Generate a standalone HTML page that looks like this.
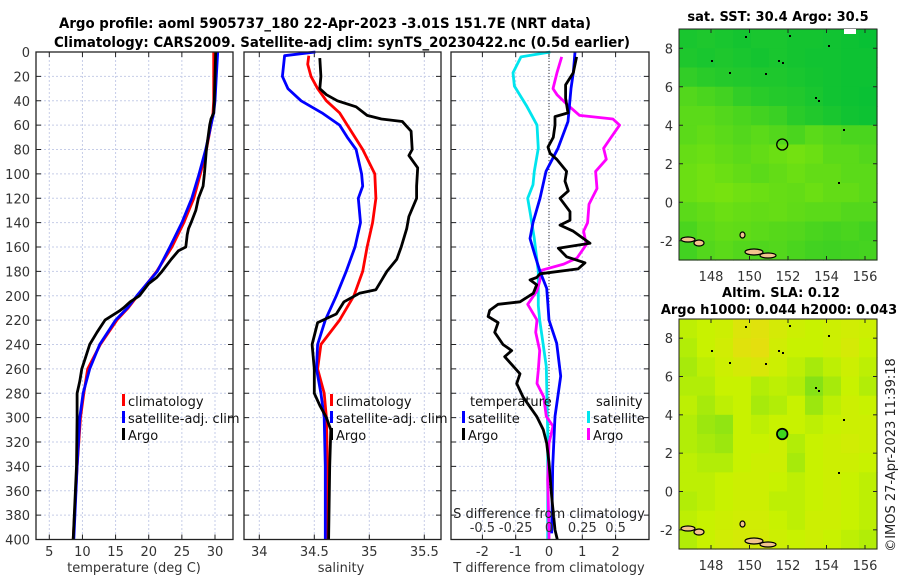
<!DOCTYPE html>
<html><head><meta charset="utf-8">
<style>
html,body{margin:0;padding:0;background:#fff;}
svg{display:block;font-family:"DejaVu Sans","Liberation Sans",sans-serif;}
</style></head>
<body>
<svg id="fig" width="900" height="580" viewBox="0 0 900 580" xmlns="http://www.w3.org/2000/svg">
<text x="325" y="28" text-anchor="middle" font-size="14" font-weight="bold" textLength="532" lengthAdjust="spacingAndGlyphs">Argo profile: aoml 5905737_180 22-Apr-2023 -3.01S 151.7E (NRT data)</text>
<text x="342" y="47" text-anchor="middle" font-size="14" font-weight="bold" textLength="576" lengthAdjust="spacingAndGlyphs">Climatology: CARS2009. Satellite-adj clim: synTS_20230422.nc (0.5d earlier)</text>
<text transform="translate(895,455) rotate(-90)" text-anchor="middle" font-size="13" fill="#222">©IMOS 27-Apr-2023 11:39:18</text>
<g id="layer"></g>
</svg>
<script>
// ---------- DATA ----------
const tDepth = [0,20,40,50,60,80,100,120,140,160,180,200,210,220,240,260,280,300,340,400];
const tClim  = [29.8,29.8,29.8,29.7,29.4,28.7,27.8,26.8,25.3,23.5,21.2,18.3,16.9,15.2,12.7,10.8,10.2,9.7,9.2,8.6];
const tSat   = [30.4,30.2,30.0,29.8,29.4,28.6,27.6,26.5,25.0,23.2,21.3,18.2,16.8,15.0,12.6,11.1,10.1,9.6,9.2,8.7];
const argoDepth = [0,20,40,50,55,60,80,100,110,120,130,140,145,150,160,163,170,180,185,190,200,205,210,212,220,230,240,250,260,270,280,300,340,400];
const argoTemp  = [30.1,30.0,29.9,29.8,29.4,29.2,28.7,28.4,28.2,27.5,27.1,26.4,26.0,25.8,25.6,24.5,23.4,22.0,21.2,20.0,18.6,17.2,16.2,15.7,13.4,12.2,11.1,10.5,9.9,9.6,9.2,9.2,9.1,8.6];

const sDepth   = [0,3,20,30,40,50,60,70,80,100,110,120,140,160,180,200,220,240,260,280,300,340,400];
const sSat     = [34.51,34.23,34.21,34.26,34.38,34.57,34.73,34.80,34.88,34.93,34.94,34.90,34.92,34.87,34.79,34.70,34.60,34.53,34.52,34.56,34.59,34.60,34.60];
const sClimD   = [3,10,20,30,40,50,60,80,100,120,140,160,180,200,220,240,260,280,300,340,400];
const sClim    = [34.45,34.44,34.47,34.53,34.61,34.73,34.80,34.94,35.05,35.06,35.03,34.98,34.94,34.86,34.73,34.56,34.53,34.59,34.61,34.62,34.61];
const argoSD   = [5,20,30,35,40,45,52,55,57,65,80,85,95,110,120,135,145,160,170,180,195,198,205,215,222,240,260,280,290,300,310,340,400];
const argoSal  = [34.55,34.56,34.55,34.61,34.71,34.88,34.98,35.11,35.30,35.38,35.39,35.36,35.44,35.43,35.43,35.36,35.34,35.29,35.25,35.16,35.06,34.91,34.77,34.70,34.53,34.48,34.50,34.50,34.55,34.61,34.65,34.64,34.63];

const dtSatD  = [0,17,30,57,79,98,120,140,153,167,180,194,208,220,239,266,299,340,395];
const dtSat   = [0.78,0.73,0.66,0.57,0.27,-0.09,-0.27,-0.48,-0.57,-0.42,-0.27,-0.07,-0.03,0.0,0.23,0.35,0.18,0.11,0.08];
const dtArgoD = [4,17,27,38,50,53,60,70,78,83,88,98,106,114,120,131,138,142,147,157,161,168,173,178,182,185,187,191,198,205,207,212,217,222,230,240,245,250,264,272,283,299,310,321,337,365,392,400];
const dtArgo  = [0.83,0.73,0.50,0.50,0.57,0.18,0.18,0.13,-0.03,0.03,0.23,0.53,0.48,0.58,0.33,0.63,0.63,0.33,0.73,1.23,0.28,0.53,1.08,0.87,-0.27,-0.37,-0.57,-0.37,-0.47,-0.87,-1.53,-1.78,-1.83,-1.53,-1.63,-1.38,-1.12,-1.33,-0.87,-0.97,-0.78,-0.37,-0.17,-0.07,0.0,0.08,0.18,0.25];
const dsSatD  = [0,4,17,28,44,60,79,98,109,120,133,153,180,208,220,258,312,394,400];
const dsSat   = [0.01,-0.21,-0.27,-0.26,-0.17,-0.09,-0.08,-0.11,-0.12,-0.16,-0.14,-0.11,-0.08,-0.08,-0.07,-0.02,-0.01,-0.01,-0.01];
const dsArgoD = [4,17,30,35,44,52,55,60,71,79,88,98,112,125,140,147,158,169,174,179,188,196,207,220,230,245,261,272,283,299,307,321,351,392,400];
const dsArgo  = [0.095,0.06,0.03,0.06,0.145,0.23,0.48,0.53,0.46,0.41,0.43,0.35,0.36,0.30,0.29,0.26,0.28,0.21,0.11,-0.055,-0.07,-0.09,-0.16,-0.09,-0.10,-0.07,-0.08,-0.09,-0.04,-0.02,0.03,0.0,-0.01,0.0,0.0];

const depthTicks = [0,20,40,60,80,100,120,140,160,180,200,220,240,260,280,300,320,340,360,380,400];
const tTicks = [5,10,15,20,25,30];
const sTicks = [34,34.5,35,35.5];
const dtTicks = [-2,-1,0,1,2];
const dsTicks = [-0.5,-0.25,0,0.25,0.5];
const dsTickLabels = ['-0.5','-0.25','0','0.25','0.5'];
const lonTicks = [148,150,152,154,156];
const latTicks = [-2,0,2,4,6,8];

// SST map: 12 rows (lat 9 -> -3), 11 cols (lon 146.6 -> 157), value 0=dark green,1=yellow-green
const sstGrid = [
 [0.15,0.18,0.15,0.12,0.15,0.15,0.12,0.12,0.10,0.08,0.05],
 [0.18,0.15,0.18,0.15,0.12,0.15,0.12,0.10,0.10,0.08,0.08],
 [0.30,0.25,0.22,0.20,0.18,0.18,0.15,0.12,0.10,0.08,0.08],
 [0.50,0.45,0.40,0.30,0.25,0.22,0.20,0.15,0.10,0.08,0.06],
 [0.55,0.55,0.50,0.45,0.40,0.35,0.25,0.20,0.15,0.10,0.08],
 [0.55,0.60,0.55,0.50,0.55,0.50,0.45,0.55,0.50,0.45,0.45],
 [0.62,0.65,0.60,0.55,0.60,0.65,0.70,0.65,0.55,0.55,0.50],
 [0.65,0.70,0.65,0.60,0.55,0.60,0.65,0.60,0.60,0.55,0.55],
 [0.65,0.70,0.72,0.68,0.65,0.62,0.60,0.65,0.60,0.60,0.55],
 [0.55,0.60,0.65,0.62,0.60,0.62,0.58,0.55,0.55,0.50,0.50],
 [0.45,0.55,0.60,0.58,0.55,0.52,0.50,0.45,0.42,0.45,0.40],
 [0.40,0.50,0.55,0.50,0.48,0.50,0.45,0.40,0.38,0.40,0.42]
];
// SLA map: 0=green, 0.5=yellow-green, 1=yellow/orange
const slaGrid = [
 [0.45,0.50,0.55,0.75,0.80,0.65,0.55,0.50,0.55,0.60,0.55],
 [0.40,0.50,0.60,0.80,0.85,0.60,0.50,0.50,0.55,0.65,0.50],
 [0.35,0.45,0.55,0.65,0.70,0.55,0.45,0.35,0.45,0.55,0.45],
 [0.40,0.40,0.50,0.50,0.40,0.45,0.40,0.20,0.35,0.50,0.40],
 [0.45,0.35,0.45,0.50,0.35,0.40,0.50,0.30,0.45,0.55,0.50],
 [0.40,0.30,0.25,0.50,0.45,0.50,0.50,0.45,0.50,0.55,0.55],
 [0.40,0.35,0.30,0.50,0.50,0.55,0.40,0.50,0.55,0.60,0.55],
 [0.45,0.40,0.40,0.50,0.55,0.55,0.35,0.50,0.55,0.55,0.50],
 [0.45,0.45,0.50,0.55,0.55,0.50,0.45,0.50,0.55,0.50,0.45],
 [0.40,0.45,0.50,0.55,0.55,0.45,0.45,0.50,0.55,0.50,0.45],
 [0.45,0.50,0.55,0.60,0.60,0.50,0.45,0.55,0.55,0.50,0.45],
 [0.40,0.50,0.60,0.65,0.65,0.55,0.50,0.55,0.50,0.45,0.40]
];
const argoLon = 151.7, argoLat = 3.0;

// ---------- HELPERS ----------
const NS='http://www.w3.org/2000/svg';
const layer=document.getElementById('layer');
function mk(tag,attrs,parent){const e=document.createElementNS(NS,tag);for(const k in attrs)e.setAttribute(k,attrs[k]);(parent||layer).appendChild(e);return e;}
const TOP=52,BOT=539.5;
function yD(d){return TOP+d*(BOT-TOP)/400;}
function lin(v0,p0,v1,p1){return v=>p0+(v-v0)*(p1-p0)/(v1-v0);}
const xT=lin(5,49.3,30,215);
const xS=lin(34,259.3,35,369.3);
const xDT=lin(0,549,1,582.3);
const xDS=lin(0,549,0.25,582.3);

function panel(x0,x1,name){
  const g=mk('g',{});
  
  
  return g;
}
function gridAndAxes(g,x0,x1,xs,xticks,showY){
  depthTicks.forEach(d=>{
    const l=mk('line',{x1:x0,x2:x1,y1:yD(d),y2:yD(d),stroke:'#c6cde8','stroke-width':1,'stroke-dasharray':'2,2'},g);
    
    
    mk('line',{x1:x0,x2:x0+5,y1:yD(d),y2:yD(d),stroke:'#222'},g);
    mk('line',{x1:x1-5,x2:x1,y1:yD(d),y2:yD(d),stroke:'#222'},g);
    if(showY){
      const t=mk('text',{x:x0-6,y:yD(d)+5,'text-anchor':'end','font-size':13,fill:'#333'},g);
      t.textContent=d;
      
      
    }
  });
  xticks.forEach(v=>{
    const x=xs(v);
    const l=mk('line',{x1:x,x2:x,y1:TOP,y2:BOT,stroke:'#c6cde8','stroke-width':1,'stroke-dasharray':'2,2'},g);
    
    
    mk('line',{x1:x,x2:x,y1:BOT-5,y2:BOT,stroke:'#222'},g);
    mk('line',{x1:x,x2:x,y1:TOP,y2:TOP+5,stroke:'#222'},g);
  });
}
function border(g,x0,x1){
  const r=mk('rect',{x:x0,y:TOP,width:x1-x0,height:BOT-TOP,fill:'none',stroke:'#222','stroke-width':1.3},g);
  
  
}
function xLabels(g,xs,ticks,labels,y){
  ticks.forEach((v,i)=>{
    const t=mk('text',{x:xs(v),y:y,'text-anchor':'middle','font-size':13,fill:'#333'},g);
    t.textContent=labels?labels[i]:v;
    
    
  });
}
function series(g,xs,vals,depths,color,name){
  const pts=vals.map((v,i)=>xs(v).toFixed(1)+','+yD(depths[i]).toFixed(1)).join(' ');
  const p=mk('polyline',{points:pts,fill:'none',stroke:color,'stroke-width':2.8,'stroke-linejoin':'round'},g);
  
  
}
function legend(g,x,y,items){
  items.forEach((it,i)=>{
    const yy=y+i*17;
    const b=mk('rect',{x:x,y:yy-12,width:3,height:12,fill:it[0]},g);
    
    
    const t=mk('text',{x:x+6,y:yy,'font-size':13,fill:'#111'},g);
    t.textContent=it[1];
    
    
  });
}

// ---------- PANEL 1: temperature ----------
let g=panel(36,233,'temperature-panel');
gridAndAxes(g,36,233,xT,tTicks,true);
series(g,xT,tClim,tDepth,'#ff0000','temp-climatology-line');
series(g,xT,tSat,tDepth,'#0000ff','temp-satellite-line');
series(g,xT,argoTemp,argoDepth,'#000000','temp-argo-line');
border(g,36,233);
xLabels(g,xT,tTicks,null,556);
let at=mk('text',{x:134,y:572,'text-anchor':'middle','font-size':13,fill:'#333'},g);
at.textContent='temperature (deg C)';


legend(g,122,406,[['#ff0000','climatology'],['#0000ff','satellite-adj. clim'],['#000','Argo']]);

// ---------- PANEL 2: salinity ----------
g=panel(244,441,'salinity-panel');
gridAndAxes(g,244,441,xS,sTicks,false);
series(g,xS,sClim,sClimD,'#ff0000','sal-climatology-line');
series(g,xS,sSat,sDepth,'#0000ff','sal-satellite-line');
series(g,xS,argoSal,argoSD,'#000000','sal-argo-line');
border(g,244,441);
xLabels(g,xS,sTicks,null,556);
at=mk('text',{x:341,y:572,'text-anchor':'middle','font-size':13,fill:'#333'},g);
at.textContent='salinity';


legend(g,330,406,[['#ff0000','climatology'],['#0000ff','satellite-adj. clim'],['#000','Argo']]);

// ---------- PANEL 3: differences ----------
g=panel(451,649,'difference-panel');
gridAndAxes(g,451,649,xDT,dtTicks,false);
let zl=mk('line',{x1:549,x2:549,y1:TOP,y2:BOT,stroke:'#333','stroke-width':1,'stroke-dasharray':'1,2'},g);


series(g,xDS,dsSat,dsSatD,'#00e5ee','sdiff-satellite-line');
series(g,xDS,dsArgo,dsArgoD,'#ff00ff','sdiff-argo-line');
series(g,xDT,dtSat,dtSatD,'#0000ff','tdiff-satellite-line');
series(g,xDT,dtArgo,dtArgoD,'#000000','tdiff-argo-line');
border(g,451,649);
xLabels(g,xDT,dtTicks,null,556);
xLabels(g,xDS,dsTicks,dsTickLabels,532);
at=mk('text',{x:549,y:572,'text-anchor':'middle','font-size':13,fill:'#333'},g);
at.textContent='T difference from climatology';


at=mk('text',{x:549,y:518,'text-anchor':'middle','font-size':13,fill:'#222'},g);
at.textContent='S difference from climatology';


at=mk('text',{x:470,y:406,'font-size':13,fill:'#111'},g);
at.textContent='temperature';


at=mk('text',{x:596,y:406,'font-size':13,fill:'#111'},g);
at.textContent='salinity';


legend(g,462,423,[['#0000ff','satellite'],['#000','Argo']]);
legend(g,587,423,[['#00e5ee','satellite'],['#ff00ff','Argo']]);

// ---------- MAPS ----------
function lerpC(a,b,t){return a.map((v,i)=>Math.round(v+(b[i]-v)*t));}
function sstColor(v){return 'rgb('+lerpC([0,190,55],[165,240,0],v).join(',')+')';}
function slaColor(v){
  if(v<0.5) return 'rgb('+lerpC([90,215,35],[200,242,0],v*2).join(',')+')';
  return 'rgb('+lerpC([200,242,0],[240,215,20],(v-0.5)*2).join(',')+')';
}
function drawMap(top,bot,grid,colorFn,name,titleLines,lonLabelY){
  const x0=679,x1=877;
  const gm=mk('g',{});
  
  
  const lonX=lin(148,711,156,865);
  const latY=lin(0,top+(bot-top)*9/12,8,top+(bot-top)*1/12);
  const cw=(x1-x0)/grid[0].length, ch=(bot-top)/grid.length;
  grid.forEach((row,r)=>row.forEach((v,c)=>{
    const cell=mk('rect',{x:(x0+c*cw).toFixed(2),y:(top+r*ch).toFixed(2),width:(cw+0.6).toFixed(2),height:(ch+0.6).toFixed(2),fill:colorFn(v)},gm);
    
    
  }));
  // coastline bits (New Ireland / New Britain area)
  [[681,bot-23,14,5],[694,bot-20,10,6],[745,bot-11,18,6],[760,bot-7,16,5],[740,bot-28,5,6]].forEach(s=>{
    const e=mk('ellipse',{cx:s[0]+s[2]/2,cy:s[1]+s[3]/2,rx:s[2]/2,ry:s[3]/2,fill:'#f2c48e',stroke:'#000','stroke-width':1.2},gm);
    
    
  });
  [[778,top+31],[782,top+33],[745,top+7],[789,top+6],[828,top+16],[765,top+44],[815,top+68],[818,top+71],[843,top+100],[838,top+153],[711,top+31],[729,top+43]].forEach(p=>{
    const d=mk('rect',{x:p[0],y:p[1],width:2,height:2,fill:'#000'},gm);
    
    
  });
  const ac=mk('circle',{cx:lonX(argoLon),cy:latY(argoLat),r:5.5,fill:'none',stroke:'#000','stroke-width':1.3},gm);
  
  
  const b=mk('rect',{x:x0,y:top,width:x1-x0,height:bot-top,fill:'none',stroke:'#222','stroke-width':1},gm);
  
  
  lonTicks.forEach(v=>{
    mk('line',{x1:lonX(v),x2:lonX(v),y1:bot,y2:bot-4,stroke:'#222'},gm);
    mk('line',{x1:lonX(v),x2:lonX(v),y1:top,y2:top+4,stroke:'#222'},gm);
    const t=mk('text',{x:lonX(v),y:lonLabelY,'text-anchor':'middle','font-size':13,fill:'#333'},gm);
    t.textContent=v;
    
    
  });
  latTicks.forEach(v=>{
    mk('line',{x1:x0,x2:x0+4,y1:latY(v),y2:latY(v),stroke:'#222'},gm);
    mk('line',{x1:x1-4,x2:x1,y1:latY(v),y2:latY(v),stroke:'#222'},gm);
    const t=mk('text',{x:x0-6,y:latY(v)+5,'text-anchor':'end','font-size':13,fill:'#333'},gm);
    t.textContent=v;
    
    
  });
  titleLines.forEach(tl=>{
    const t=mk('text',{x:tl[1],y:tl[2],'text-anchor':'middle','font-size':13,'font-weight':'bold',fill:'#000'},gm);
    t.textContent=tl[0];
    
    
  });
  return gm;
}
const m1=drawMap(29,260,sstGrid,sstColor,'sst-map',[['sat. SST: 30.4 Argo: 30.5',778,21]],281);
const ws=mk('rect',{x:844,y:29,width:12,height:5,fill:'#fff'},m1);


drawMap(319,549,slaGrid,slaColor,'sla-map',[['Altim. SLA: 0.12',781,297],['Argo h1000: 0.044 h2000: 0.043',779,314]],570);
// fill argo marker on SLA map
const slaMarker=mk('circle',{cx:lin(148,711,156,865)(argoLon),cy:lin(0,319+230*9/12,8,319+230/12)(argoLat),r:5,fill:'#3fd51e',stroke:'#000','stroke-width':1.2});


</script>
</body></html>
